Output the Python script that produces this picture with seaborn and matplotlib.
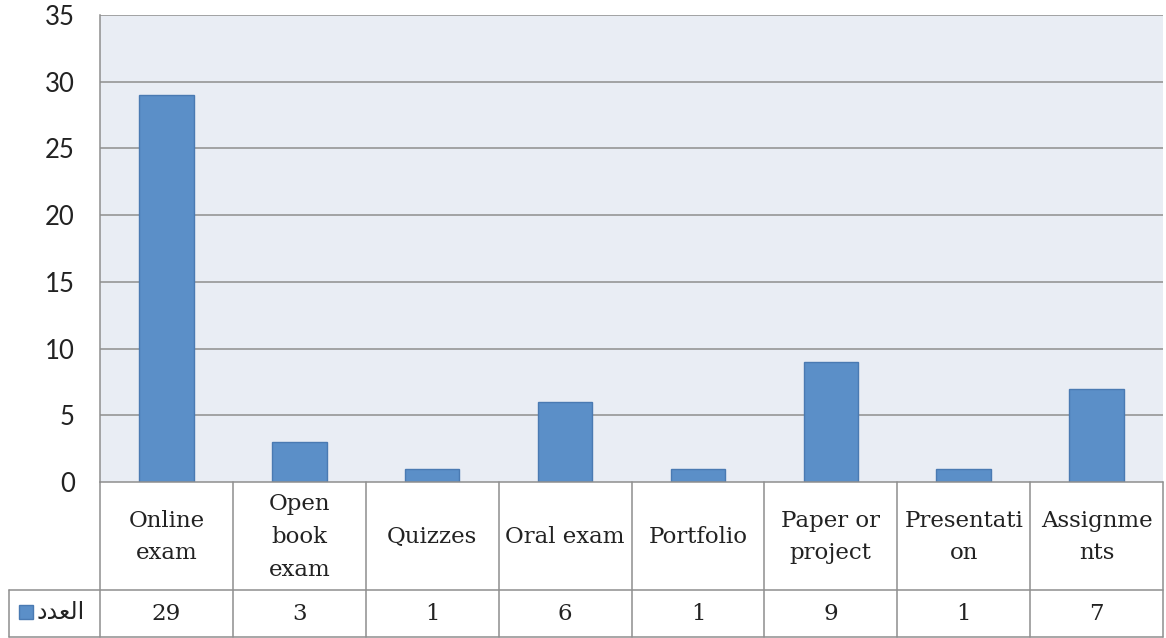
import matplotlib
matplotlib.use("Agg")
import matplotlib.pyplot as plt
import matplotlib.transforms as mtransforms
from matplotlib.patches import Rectangle
from matplotlib.lines import Line2D
import seaborn as sns
import pandas as pd

# Assessment methods and their counts
categories = ["Online exam", "Open book exam", "Quizzes", "Oral exam",
              "Portfolio", "Paper or project", "Presentation", "Assignments"]
table_labels = ["Online\nexam", "Open\nbook\nexam", "Quizzes", "Oral exam",
                "Portfolio", "Paper or\nproject", "Presentati\non", "Assignme\nnts"]
counts = [29, 3, 1, 6, 1, 9, 1, 7]
series_name = "العدد"
# pre-shaped presentation forms in visual order so the word joins correctly
series_label = "\uFEA9\uFEAA\uFECC\uFEDF\uFE8D"
y_ticks = [0, 5, 10, 15, 20, 25, 30, 35]

sns.set_theme(style="white")

BAR = "#5b8fc8"
BAR_EDGE = "#4a7ab2"
GRID = "#8e8e8e"
BG = "#e9edf4"
SERIF = ["DejaVu Serif"]

W, H = 1166, 638
fig = plt.figure(figsize=(W / 100, H / 100), dpi=100)
left, right, top, bottom = 100, 1163, 15, 482
ax = fig.add_axes([left / W, 1 - bottom / H, (right - left) / W, (bottom - top) / H])
ax.set_facecolor(BG)

df = pd.DataFrame({"method": categories, "count": counts})
sns.barplot(data=df, x="method", y="count", order=categories, color=BAR,
            width=0.41, saturation=1, edgecolor=BAR_EDGE, linewidth=1.0, ax=ax, zorder=3)

ax.set_ylim(0, 35)
ax.set_xlim(-0.5, len(categories) - 0.5)
ax.set_yticks(y_ticks)
ax.set_yticklabels([str(t) for t in y_ticks], fontsize=18.5, family="Lato", color="#222222")
ax.tick_params(axis="y", length=0, pad=18)
ax.set_xticks([])
ax.set_xlabel("")
ax.set_ylabel("")
for t in y_ticks[1:]:
    ax.axhline(t, color=GRID, linewidth=1.1, zorder=1)
for side in ["top", "right", "bottom"]:
    ax.spines[side].set_visible(False)
ax.spines["left"].set_color(GRID)
ax.spines["left"].set_linewidth(1.1)

# data table under the plot, in figure pixel coordinates
def fx(px):
    return px / W

def fy(py):
    return 1 - py / H

row1_top, row1_bot, row2_bot = 482, 590, 637
tab_left = 9
col_w = (right - left) / len(categories)
line_kw = dict(color=GRID, linewidth=1.1, transform=fig.transFigure)

fig.add_artist(Line2D([fx(left), fx(right)], [fy(row1_top)] * 2, **line_kw))
fig.add_artist(Line2D([fx(tab_left), fx(right)], [fy(row1_bot)] * 2, **line_kw))
fig.add_artist(Line2D([fx(tab_left), fx(right)], [fy(row2_bot)] * 2, **line_kw))
fig.add_artist(Line2D([fx(tab_left)] * 2, [fy(row1_bot), fy(row2_bot)], **line_kw))
for i in range(len(categories) + 1):
    x = left + i * col_w
    fig.add_artist(Line2D([fx(x)] * 2, [fy(row1_top), fy(row2_bot)], **line_kw))

# category names and values centred on each bar's x position
blend1 = mtransforms.blended_transform_factory(ax.transData, fig.transFigure)
for i, (lab, val) in enumerate(zip(table_labels, counts)):
    ax.text(i, fy((row1_top + row1_bot) / 2 + 1), lab, transform=blend1,
            ha="center", va="center", fontsize=16.5, family=SERIF,
            linespacing=1.62, color="#222222", clip_on=False)
    ax.text(i, fy((row1_bot + row2_bot) / 2), str(val), transform=blend1,
            ha="center", va="center", fontsize=16.5, family=SERIF,
            color="#222222", clip_on=False)

# legend key in the value row
fig.add_artist(Rectangle((fx(19), fy(619)), 14 / W, 14 / H, facecolor=BAR,
                         edgecolor=BAR_EDGE, linewidth=1, transform=fig.transFigure))
fig.text(fx(37), fy(612), series_label, ha="left", va="center",
         fontsize=17, family=["DejaVu Sans"], color="#222222")

fig.savefig("out.png", dpi=100)
